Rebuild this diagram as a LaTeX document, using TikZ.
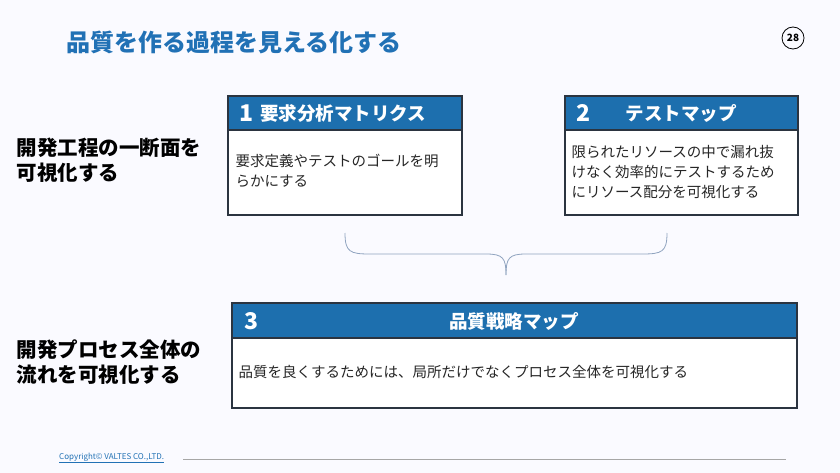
\documentclass[tikz,border=0pt]{standalone}
\usepackage{fontspec}
\setmainfont{Noto Sans CJK JP}
\usetikzlibrary{positioning}
\definecolor{titleblue}{HTML}{2171B5}
\definecolor{headblue}{HTML}{1D6FAE}
\definecolor{framegray}{HTML}{2B3440}
\definecolor{bracegray}{HTML}{8FA3BF}
\tikzset{
  headbox/.style={draw=framegray, line width=1.6pt, fill=headblue},
  bodybox/.style={draw=framegray, line width=1.6pt, fill=white},
  headtext/.style={text=white, font=\bfseries\fontsize{18.5}{20}\selectfont},
  numtext/.style={text=white, font=\bfseries\fontsize{23}{26}\selectfont},
  bodytext/.style={anchor=north west, align=left, font=\fontsize{14.5}{20}\selectfont, text=black!85},
  sidetext/.style={anchor=west, align=left, font=\bfseries\fontsize{20.5}{25}\selectfont}
}
\begin{document}
\begin{tikzpicture}[x=1pt,y=-1pt]
			\fill[blue!2] (0,0) rectangle (840,473);
			\useasboundingbox (0,0) rectangle (840,473);

			\node[anchor=west, text=titleblue, font=\bfseries\fontsize{24}{28}\selectfont] (title) at (63,42) {品質を作る過程を見える化する};
			\node[draw, thick, circle, minimum size=22pt, inner sep=0pt, font=\bfseries\fontsize{10}{12}\selectfont] (page) at (793,38) {28};

			\node[sidetext] (side1) at (13,160) {開発工程の一断面を\\可視化する};
			\node[sidetext] (side2) at (13,362) {開発プロセス全体の\\流れを可視化する};

			% box 1
			\draw[bodybox] (228,96) rectangle (462,215);
			\draw[headbox] (228,96) rectangle (462,130);
			\node[numtext] (n1) at (246,113) {1};
			\node[headtext, right=0pt of n1] (h1) {要求分析マトリクス};
			\node[bodytext] (b1) at (232,151) {要求定義やテストのゴールを明\\らかにする};

			% box 2
			\draw[bodybox] (565,96) rectangle (798,215);
			\draw[headbox] (565,96) rectangle (798,130);
			\node[numtext] (n2) at (583,113) {2};
			\node[headtext] (h2) at (681,113) {テストマップ};
			\node[bodytext] (b2) at (568,142) {限られたリソースの中で漏れ抜\\けなく効率的にテストするため\\にリソース配分を可視化する};

			% brace
			\draw[bracegray, thick] (345,233) .. controls (345,252) and (350,254) .. (370,254)
				-- (486,254) .. controls (503,254) and (506,258) .. (506,275);
			\draw[bracegray, thick] (667,233) .. controls (667,252) and (662,254) .. (642,254)
				-- (526,254) .. controls (509,254) and (506,258) .. (506,275);

			% box 3
			\draw[bodybox] (232,303) rectangle (797,408);
			\draw[headbox] (232,303) rectangle (797,338);
			\node[numtext] (n3) at (251,321) {3};
			\node[headtext] (h3) at (514,321) {品質戦略マップ};
			\node[bodytext] (b3) at (235,362) {品質を良くするためには、局所だけでなくプロセス全体を可視化する};

			% footer
			\node[anchor=west, text=titleblue, font=\fontsize{8}{9}\selectfont, inner sep=1pt] (copy) at (58,458) {\underline{Copyright© VALTES CO.,LTD.}};
			\draw[gray!70] (183,459) -- (786,459);
		\end{tikzpicture}
\end{document}
